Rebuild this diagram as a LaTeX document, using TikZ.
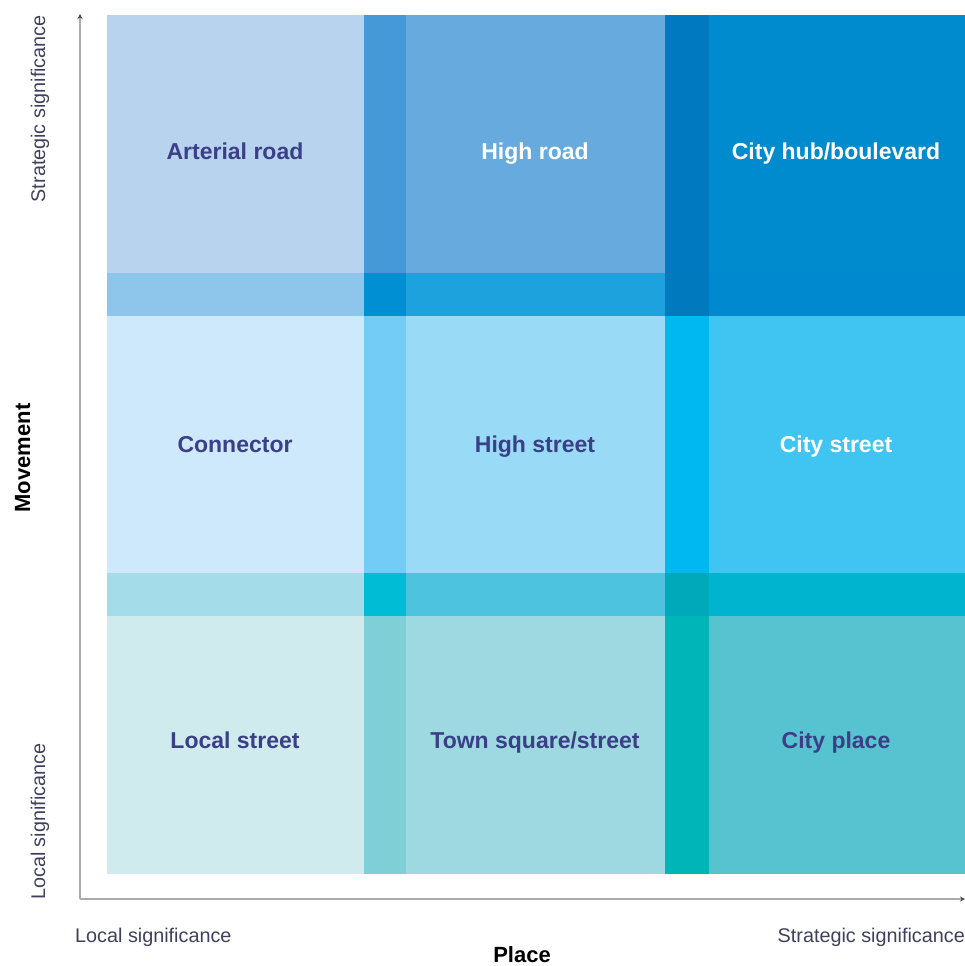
\documentclass[tikz,border=0pt]{standalone}
\usepackage{fontspec}
\setmainfont{Liberation Sans}
\usetikzlibrary{arrows.meta}
\definecolor{cA}{HTML}{B7D3EE}
\definecolor{cB}{HTML}{67ABDE}
\definecolor{cC}{HTML}{008BCF}
\definecolor{vA}{HTML}{4499D6}
\definecolor{vB}{HTML}{0079C1}
\definecolor{hA}{HTML}{8EC5EB}
\definecolor{hAB}{HTML}{008FD3}
\definecolor{hB}{HTML}{1EA2DE}
\definecolor{hBC}{HTML}{0079BF}
\definecolor{hC}{HTML}{0089CF}
\definecolor{dA}{HTML}{CDE9FB}
\definecolor{wA}{HTML}{72CCF5}
\definecolor{dB}{HTML}{99DAF7}
\definecolor{wB}{HTML}{00B8F0}
\definecolor{dC}{HTML}{40C5F3}
\definecolor{gA}{HTML}{A5DCE9}
\definecolor{gAB}{HTML}{00BCD4}
\definecolor{gB}{HTML}{4DC3DF}
\definecolor{gBC}{HTML}{00A9BA}
\definecolor{gC}{HTML}{00B4CF}
\definecolor{eA}{HTML}{D0EBEE}
\definecolor{uA}{HTML}{7ECFD6}
\definecolor{eB}{HTML}{9ED8E1}
\definecolor{uB}{HTML}{00B5B8}
\definecolor{eC}{HTML}{57C3D0}
\definecolor{labdark}{HTML}{3A3F86}
\definecolor{axtext}{HTML}{40405C}
\definecolor{axline}{HTML}{ABABAB}
\tikzset{
  celllab/.style={font=\fontsize{23}{27}\selectfont\bfseries, text=labdark, inner sep=0pt, anchor=base},
  celllabw/.style={celllab, text=white},
  axlab/.style={font=\fontsize{19.8}{23}\selectfont, text=axtext, inner sep=0pt},
  axtitle/.style={font=\fontsize{22}{26}\selectfont\bfseries, text=black, inner sep=0pt},
  axis/.style={draw=axline, line width=1.8pt, -{Stealth[length=5pt,width=5pt,color=black!70]}}
}
\begin{document}
\begin{tikzpicture}[x=1pt,y=-1pt]
\useasboundingbox (0,0) rectangle (965,966);
% row 1
\fill[cA] (107,15) rectangle (364,273);
\fill[vA] (364,15) rectangle (406,273);
\fill[cB] (406,15) rectangle (665,273);
\fill[vB] (665,15) rectangle (709,273);
\fill[cC] (709,15) rectangle (965,273);
% band 1-2
\fill[hA] (107,273) rectangle (364,316);
\fill[hAB] (364,273) rectangle (406,316);
\fill[hB] (406,273) rectangle (665,316);
\fill[hBC] (665,273) rectangle (709,316);
\fill[hC] (709,273) rectangle (965,316);
% row 2
\fill[dA] (107,316) rectangle (364,573);
\fill[wA] (364,316) rectangle (406,573);
\fill[dB] (406,316) rectangle (665,573);
\fill[wB] (665,316) rectangle (709,573);
\fill[dC] (709,316) rectangle (965,573);
% band 2-3
\fill[gA] (107,573) rectangle (364,616);
\fill[gAB] (364,573) rectangle (406,616);
\fill[gB] (406,573) rectangle (665,616);
\fill[gBC] (665,573) rectangle (709,616);
\fill[gC] (709,573) rectangle (965,616);
% row 3
\fill[eA] (107,616) rectangle (364,874);
\fill[uA] (364,616) rectangle (406,874);
\fill[eB] (406,616) rectangle (665,874);
\fill[uB] (665,616) rectangle (709,874);
\fill[eC] (709,616) rectangle (965,874);
% labels
\node[celllab]  (arterial) at (235,159) {Arterial road};
\node[celllabw] (highroad) at (535,159) {High road};
\node[celllabw] (cityhub)  at (836,159) {City hub/boulevard};
\node[celllab]  (connector) at (235,452) {Connector};
\node[celllab]  (highstreet) at (535,452) {High street};
\node[celllabw] (citystreet) at (836,452) {City street};
\node[celllab]  (localstreet) at (235,748) {Local street};
\node[celllab]  (townsquare) at (535,748) {Town square/street};
\node[celllab]  (cityplace) at (836,748) {City place};
% axes
\coordinate (origin) at (80,899);
\coordinate (ytop) at (80,14);
\coordinate (xend) at (965,899);
\draw[axis] (origin) -- (ytop);
\draw[axis] (origin) -- (xend);
% axis labels
\node[axlab, anchor=base west] (xlocal) at (75,942) {Local significance};
\node[axlab, anchor=base east] (xstrat) at (965,942) {Strategic significance};
\node[axtitle, anchor=base] (place) at (522,962) {Place};
\node[axlab, rotate=90, anchor=base west] (ylocal) at (45,900) {Local significance};
\node[axlab, rotate=90, anchor=base east] (ystrat) at (45,15) {Strategic significance};
\node[axtitle, rotate=90, anchor=base] (movement) at (30,458) {Movement};
\end{tikzpicture}
\end{document}
